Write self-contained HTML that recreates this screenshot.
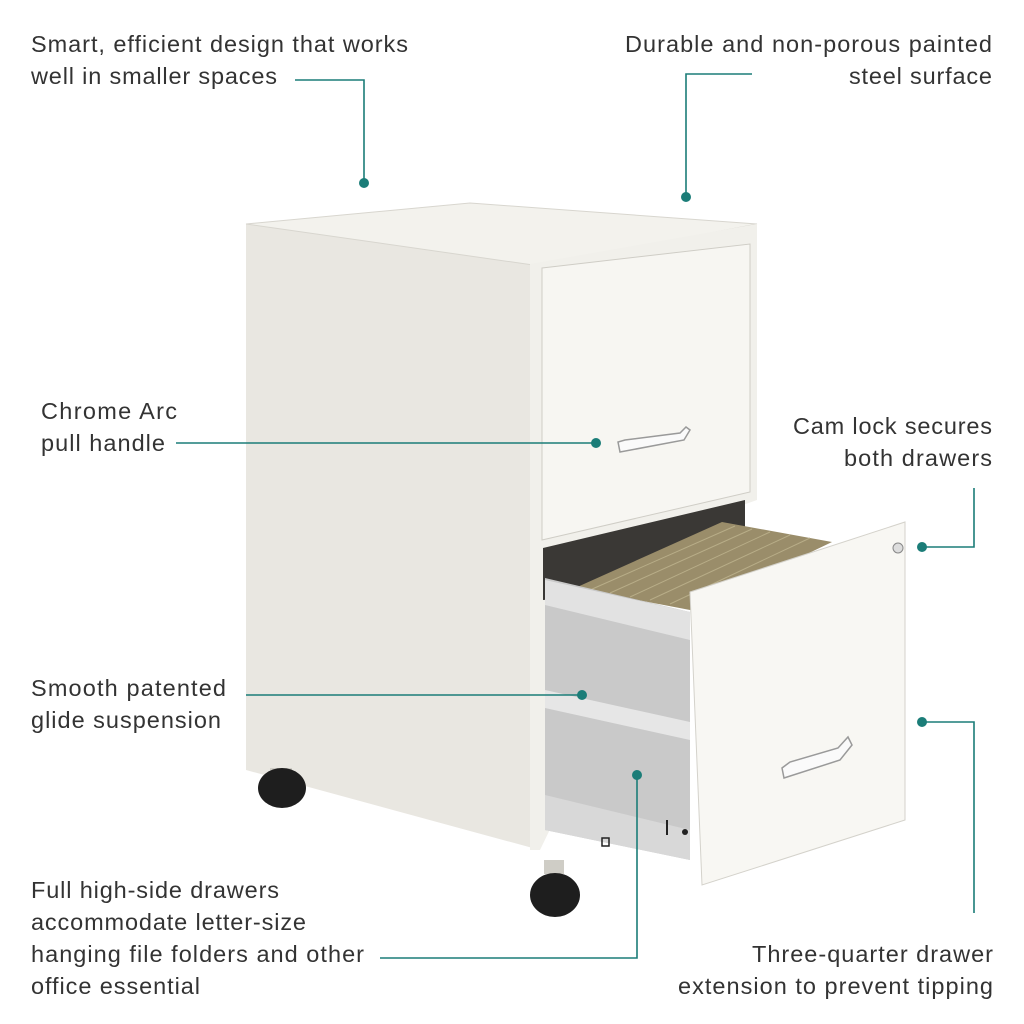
<!DOCTYPE html>
<html><head><meta charset="utf-8"><style>
html,body{margin:0;padding:0;background:#fff;}
svg{display:block}
text{font-family:"Liberation Sans",sans-serif;font-size:23.5px;fill:#333;}
</style></head><body>
<svg width="1024" height="1024" viewBox="0 0 1024 1024" xmlns="http://www.w3.org/2000/svg">
<polygon points="246,224 540,266 540,850 246,770" fill="#e9e7e1"/>
<polygon points="246,224 470,203 757,224 540,266" fill="#f3f2ed" stroke="#d8d6cf" stroke-width="1"/>
<polygon points="530,264 757,224 757,500 700,520 540,850 530,850" fill="#f1f0eb"/>
<polygon points="542,268 750,244 750,492 542,540" fill="#f7f6f2" stroke="#cfcdc6" stroke-width="1"/>
<path d="M618,442 L620,452 L684,440 L690,430 L686,427 L680,433 L625,440 Z" fill="#fafafa" stroke="#9a9a9a" stroke-width="1.5"/>
<polygon points="543,548 745,500 745,540 690,590 543,600" fill="#3a3835"/>
<polygon points="575,588 722,522 832,542 690,610" fill="#9a8d6a"/>
<g stroke="#b8ad88" stroke-width="1">
<line x1="590" y1="590" x2="735" y2="526"/><line x1="610" y1="593" x2="752" y2="529"/>
<line x1="630" y1="597" x2="770" y2="532"/><line x1="650" y1="600" x2="790" y2="535"/>
<line x1="670" y1="604" x2="810" y2="538"/>
</g>
<polygon points="545,578 690,612 690,860 545,830" fill="#c9c9c9"/>
<polygon points="545,580 690,612 690,640 545,605" fill="#e2e2e2"/>
<polygon points="545,690 690,722 690,740 545,708" fill="#e6e6e6"/>
<polygon points="545,795 690,830 690,860 545,830" fill="#d8d8d8"/>
<rect x="602" y="838" width="7" height="8" fill="none" stroke="#222" stroke-width="1.5"/>
<line x1="667" y1="820" x2="667" y2="835" stroke="#222" stroke-width="2"/>
<circle cx="685" cy="832" r="3" fill="#222"/>
<polygon points="690,592 905,522 905,820 702,885" fill="#f8f7f3" stroke="#d4d2cb" stroke-width="1"/>
<circle cx="898" cy="548" r="5" fill="#ddd" stroke="#888"/>
<path d="M782,768 L784,778 L840,760 L852,745 L848,737 L838,748 L790,762 Z" fill="#fafafa" stroke="#9a9a9a" stroke-width="1.5"/>
<rect x="270" y="768" width="22" height="10" fill="#cfcdc6"/>
<ellipse cx="282" cy="788" rx="24" ry="20" fill="#1e1e1e"/>
<rect x="544" y="860" width="20" height="14" fill="#cfcdc6"/>
<ellipse cx="555" cy="895" rx="25" ry="22" fill="#1e1e1e"/>
<g stroke="#1b7d78" stroke-width="1.6" fill="none">
<polyline points="295,80 364,80 364,183"/>
<polyline points="752,74 686,74 686,197"/>
<line x1="176" y1="443" x2="596" y2="443"/>
<polyline points="922,547 974,547 974,488"/>
<line x1="246" y1="695" x2="582" y2="695"/>
<polyline points="922,722 974,722 974,913"/>
<polyline points="380,958 637,958 637,775"/>
</g>
<g fill="#1b7d78">
<circle cx="364" cy="183" r="5"/><circle cx="686" cy="197" r="5"/>
<circle cx="596" cy="443" r="5"/><circle cx="922" cy="547" r="5"/>
<circle cx="582" cy="695" r="5"/><circle cx="922" cy="722" r="5"/>
<circle cx="637" cy="775" r="5"/>
</g>
<text x="31" y="52" textLength="377" lengthAdjust="spacing">Smart, efficient design that works</text>
<text x="31" y="84" textLength="246" lengthAdjust="spacing">well in smaller spaces</text>
<text x="625" y="52" textLength="367" lengthAdjust="spacing">Durable and non-porous painted</text>
<text x="849" y="84" textLength="143" lengthAdjust="spacing">steel surface</text>
<text x="41" y="419" textLength="136" lengthAdjust="spacing">Chrome Arc</text>
<text x="41" y="451" textLength="124" lengthAdjust="spacing">pull handle</text>
<text x="793" y="434" textLength="199" lengthAdjust="spacing">Cam lock secures</text>
<text x="844" y="466" textLength="148" lengthAdjust="spacing">both drawers</text>
<text x="31" y="696" textLength="195" lengthAdjust="spacing">Smooth patented</text>
<text x="31" y="728" textLength="190" lengthAdjust="spacing">glide suspension</text>
<text x="31" y="898" textLength="248" lengthAdjust="spacing">Full high-side drawers</text>
<text x="31" y="930" textLength="275" lengthAdjust="spacing">accommodate letter-size</text>
<text x="31" y="962" textLength="333" lengthAdjust="spacing">hanging file folders and other</text>
<text x="31" y="994" textLength="169" lengthAdjust="spacing">office essential</text>
<text x="752" y="962" textLength="241" lengthAdjust="spacing">Three-quarter drawer</text>
<text x="678" y="994" textLength="315" lengthAdjust="spacing">extension to prevent tipping</text>
</svg>
</body></html>
